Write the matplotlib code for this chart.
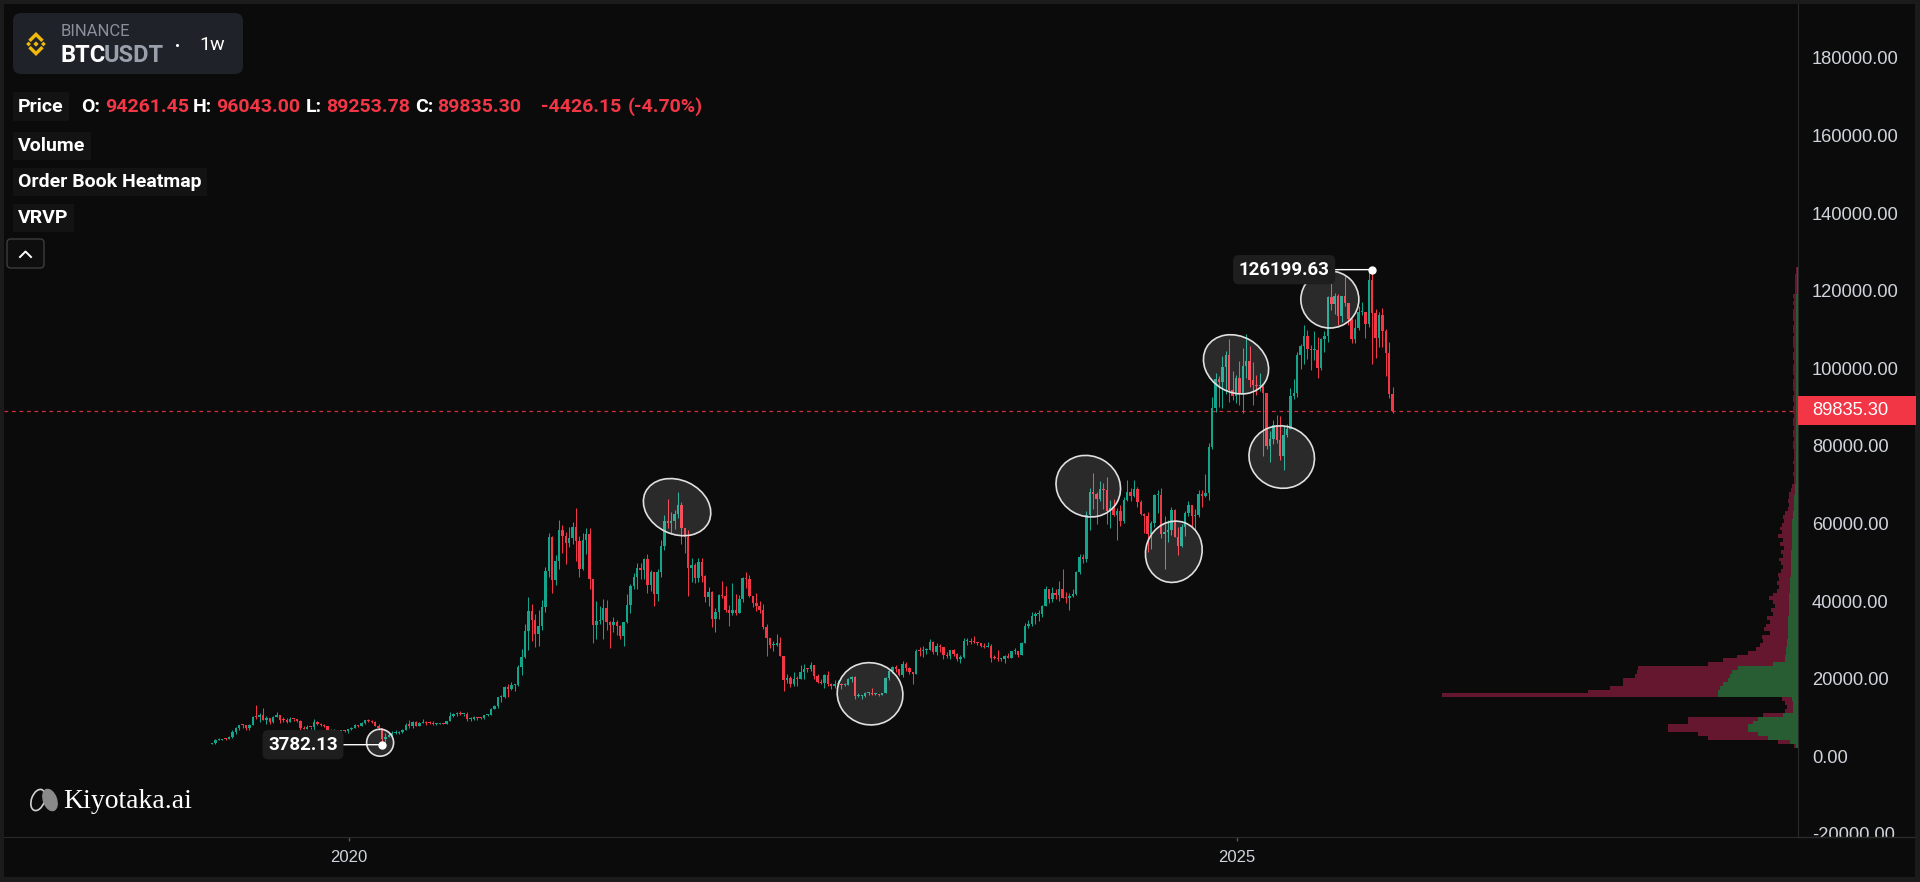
import matplotlib
matplotlib.use("Agg")
import matplotlib.pyplot as plt
import matplotlib.dates as mdates
import matplotlib.transforms as mtransforms
from matplotlib.patches import Rectangle, FancyBboxPatch, Ellipse, Polygon
from matplotlib.lines import Line2D
import numpy as np
import pandas as pd

plt.rcParams['font.family'] = ['Roboto', 'DejaVu Sans']

W, H = 1920, 882

# ---- weekly BTCUSDT candles (Binance), week starting Monday ----
first_week = "2019-03-25"
first_open = 3990.0

closes_2019 = [4100, 5060, 5070, 5290, 5280, 5720, 6960, 8200, 8770, 8740,
               7990, 8980, 10860, 10820, 11460, 10190, 10590, 9530, 10820, 11380,
               10230, 10140, 9600, 10390, 10300, 10000, 8050, 7880, 8280, 8220,
               9550, 9200, 8800, 8500, 6900, 7400, 7500, 7070, 7520, 7390, 7760]
highs_2019 = [4150, 5300, 5470, 5370, 5630, 5900, 7450, 8380, 8950, 9090,
              8800, 9000, 11200, 13970, 12000, 13200, 11100, 10650, 11080, 12320,
              11450, 10950, 10650, 10900, 10480, 10380, 10050, 8550, 8800, 8400,
              10370, 9800, 9500, 9100, 8500, 7900, 7750, 7560, 7540, 7700, 7800]
lows_2019 = [3900, 4090, 4940, 5000, 5000, 5150, 5600, 6600, 7450, 8000,
             7450, 7550, 8900, 10300, 9650, 10100, 9070, 9100, 9250, 10800,
             9470, 9750, 9350, 9600, 9880, 9600, 7700, 7760, 7800, 7900,
             7300, 8970, 8700, 8350, 6790, 6515, 7100, 7000, 6430, 7100, 6870]

closes_2020 = [8180, 8900, 8600, 9350, 10150, 9900, 9670, 8530, 8030, 5360,
               5820, 6250, 6780, 6900, 7120, 7700, 8900, 8730, 9680, 8720,
               9450, 9660, 9340, 9300, 9000, 9060, 9230, 9160, 9900, 11070,
               11650, 11890, 11650, 11680, 10280, 10330, 10920, 10780, 10670, 11380,
               11500, 13030, 13800, 15960, 16050, 18680, 18180, 19150, 19270, 23740,
               26490, 33000]
highs_2020 = [8470, 9190, 8900, 9570, 10200, 10500, 10250, 9970, 9190, 8180,
              6900, 6990, 7200, 7470, 7300, 7800, 9480, 10070, 9950, 9900,
              9600, 10380, 9950, 9800, 9780, 9300, 9450, 9350, 10000, 12120,
              11900, 12100, 12500, 11800, 12090, 10800, 11100, 10980, 10950, 11500,
              11720, 13350, 14000, 15970, 16480, 18900, 19500, 19920, 19420, 24300,
              28400, 34800]
lows_2020 = [7700, 8100, 8260, 8560, 9100, 9600, 9300, 8500, 7600, 3782.13,
             4440, 5670, 5860, 6600, 6460, 6800, 7650, 8100, 8200, 8700,
             8630, 9270, 8900, 9200, 8820, 8900, 9050, 9050, 9150, 9900,
             11000, 11200, 11330, 11100, 9900, 9880, 10220, 10130, 10370, 10530,
             11200, 11400, 12950, 13300, 14800, 15800, 16200, 18000, 17600, 19000,
             21800, 26000]

closes_2021 = [38150, 36000, 32260, 34300, 39260, 48580, 57400, 46190, 51200, 59030,
               57520, 55780, 57090, 60000, 56200, 49000, 56600, 58200, 46400, 34700,
               35650, 35800, 39000, 35500, 34700, 35300, 34250, 31800, 35400, 39850,
               44600, 47050, 49300, 48900, 51750, 45000, 48300, 42700, 48200, 54950,
               61500, 60900, 61300, 63300, 65500, 59700, 57300, 49400, 50100, 46700,
               50800, 47300]
highs_2021 = [41950, 40100, 37500, 38600, 40950, 49700, 58350, 57500, 52650, 61800,
              60400, 58500, 60000, 61200, 64850, 57500, 58450, 59600, 59600, 46600,
              40900, 39500, 41300, 41000, 35750, 36600, 35900, 34700, 35400, 42600,
              45300, 48150, 50500, 50500, 52000, 52900, 48800, 47300, 49000, 56550,
              62900, 67000, 63700, 64300, 69000, 66300, 59500, 59100, 51900, 50600,
              52000, 52000]
lows_2021 = [28130, 30400, 28850, 29240, 33400, 37900, 47050, 43000, 44950, 49100,
             53300, 50400, 54800, 55500, 51000, 47000, 48800, 53000, 43800, 30000,
             31100, 34800, 31000, 33300, 28800, 32700, 32050, 31000, 29280, 35200,
             37600, 43800, 43950, 46400, 46500, 42800, 43400, 39600, 40700, 47100,
             53900, 59500, 58000, 59400, 62300, 55600, 53300, 42000, 45700, 45500,
             45600, 45700]

closes_2022 = [41800, 43100, 36300, 37900, 42400, 42200, 38400, 37700, 38400, 37800,
               41300, 46800, 46400, 42150, 40400, 39500, 38500, 34000, 31300, 29450,
               29450, 29900, 26600, 20550, 21000, 19300, 20830, 20800, 22600, 23300,
               23170, 24300, 21500, 20000, 19800, 21800, 19400, 18900, 19300, 19400,
               19150, 19200, 20800, 21200, 16300, 16300, 16450, 17100, 17100, 16800,
               16850, 16600]
highs_2022 = [47600, 44500, 43500, 38900, 42700, 45850, 44700, 39800, 45400, 42600,
              42400, 47000, 48200, 47500, 41600, 42900, 40800, 40000, 34900, 31400,
              30600, 32400, 31600, 26700, 21900, 21500, 22500, 21600, 24300, 24700,
              23650, 25200, 24450, 22000, 20600, 21900, 22800, 19700, 20400, 20500,
              19700, 19700, 21000, 21500, 21400, 17200, 16700, 17400, 17400, 18400,
              17000, 16950]
lows_2022 = [40500, 39600, 34000, 32900, 36300, 41700, 38000, 34300, 37200, 37200,
             37600, 40500, 44200, 41900, 39200, 38200, 37600, 33700, 26700, 28600,
             28000, 29300, 26600, 17600, 19650, 18600, 19000, 18900, 20700, 20700,
             22400, 22700, 20750, 19800, 19500, 18500, 19000, 18100, 18500, 19000,
             18200, 18800, 19200, 20000, 15600, 16000, 15500, 16000, 16700, 16500,
             16600, 16300]

closes_2023 = [17100, 20900, 22700, 23750, 23300, 21800, 24600, 23500, 22400, 22100,
               28000, 27900, 28200, 28300, 30300, 27600, 29200, 28900, 26800, 26750,
               28100, 27100, 25850, 26350, 30500, 30600, 30300, 30200, 29900, 29300,
               29000, 29300, 26100, 26000, 25800, 25850, 26550, 26250, 27950, 27950,
               26850, 29900, 34500, 35000, 37050, 37400, 37450, 39450, 43800, 41350,
               43000, 42250]
highs_2023 = [17200, 21300, 23000, 23950, 24250, 23400, 25250, 25100, 23900, 22600,
              28400, 28900, 29200, 28800, 31000, 30500, 30000, 29800, 28500, 27600,
              28200, 28400, 27400, 26800, 31400, 31300, 31400, 31800, 30300, 30100,
              30000, 30200, 29700, 26800, 28100, 26100, 26800, 27500, 28000, 28600,
              28000, 30300, 35200, 35900, 37900, 37900, 38400, 39700, 44700, 44000,
              44300, 43800]
lows_2023 = [16500, 17000, 20400, 22300, 22500, 21500, 21350, 22700, 21900, 19550,
             21900, 26600, 26500, 27200, 28100, 27100, 26900, 27700, 25800, 26000,
             25900, 26600, 25350, 24800, 26200, 29500, 29700, 29900, 29500, 28900,
             28600, 28900, 25200, 25800, 25400, 25400, 24900, 26000, 26000, 27200,
             26500, 26800, 29900, 33900, 34500, 34800, 35600, 36700, 39400, 40200,
             40500, 41300]

closes_2024 = [43900, 41700, 41550, 42000, 42600, 48300, 52100, 51700, 63100, 68950,
               68300, 67200, 69600, 69400, 63900, 64900, 63100, 64000, 61500, 66900,
               69000, 67800, 69650, 66200, 63200, 62700, 58000, 60800, 68200, 68200,
               58200, 58700, 59000, 64200, 57300, 54900, 60000, 63600, 65600, 62800,
               62900, 68300, 67900, 68700, 80400, 90600, 97900, 97200, 101100, 104300,
               95200, 93600, 98400]
highs_2024 = [45900, 49000, 43200, 42800, 43880, 48600, 52800, 52900, 64000, 69900,
              73800, 68900, 71700, 71300, 72800, 66900, 67200, 64700, 65500, 67700,
              71950, 70000, 71950, 70200, 66900, 63400, 63800, 61400, 68400, 69400,
              70000, 62700, 61800, 65000, 64500, 59800, 60600, 64100, 66500, 65500,
              64500, 69400, 69500, 73600, 81500, 93400, 99600, 98700, 104000, 105200,
              108350, 99960, 99000]
lows_2024 = [40750, 41500, 40300, 38550, 41900, 42250, 47700, 50600, 50900, 59000,
             64500, 60700, 66700, 64500, 60700, 59600, 62800, 56550, 60200, 60800,
             66600, 66700, 67600, 65100, 63000, 58400, 53500, 54300, 59900, 63400,
             57100, 49000, 56100, 57900, 57200, 52550, 54600, 57500, 62700, 59800,
             58900, 62400, 65000, 67500, 66800, 80000, 89400, 90800, 90500, 94150,
             92100, 92500, 91800]

closes_2025 = [94500, 101300, 102600, 97700, 96400, 96100, 96300, 94300, 80700, 82600,
               86100, 82400, 78300, 83700, 85200, 93700, 94300, 104100, 106500, 109000,
               105700, 105600, 105600, 100900, 108400, 109200, 119100, 117300, 119400, 114200,
               119300, 117500, 113500, 108200, 111100, 115300, 115300, 112200, 123500, 115100,
               108600, 114500, 110500, 104700, 94261.45, 89835.30]
highs_2025 = [102700, 106000, 109600, 106400, 102500, 99000, 99500, 96500, 94400, 84700,
              87500, 88700, 88500, 86000, 86400, 95800, 97900, 104900, 107100, 111980,
              110700, 106800, 110500, 108900, 108500, 110500, 119500, 123200, 120200, 119800,
              119400, 124500, 117600, 113600, 113400, 116800, 117900, 115400, 125700, 126199.63,
              116000, 115400, 116400, 111000, 107500, 96043.00]
lows_2025 = [91200, 89250, 98200, 96000, 91200, 94000, 94800, 78250, 80000, 76600,
             81200, 81600, 77100, 74500, 83000, 85100, 92900, 93400, 100700, 102000,
             103100, 100400, 103000, 98200, 100400, 105100, 107500, 115700, 114700, 112000,
             112700, 116800, 111900, 107300, 107300, 110600, 114400, 108600, 111500, 102000,
             103500, 106300, 106300, 98900, 93000, 89253.78]

# ---- visible range volume profile, 1000 USDT price bins from 0 ----
vp_bin = 1000
vp_buy = [0, 0, 0, 2, 8, 30, 40, 50, 50, 45,
          40, 15, 5, 5, 5, 6, 80, 80, 78, 75,
          70, 68, 66, 60, 25, 13, 13, 12, 12, 11,
          11, 10, 10, 10, 10, 10, 10, 9, 9, 9,
          9, 9, 9, 8, 8, 8, 8, 7, 7, 7,
          7, 7, 7, 7, 6, 6, 6, 6, 6, 6,
          6, 6, 5, 5, 4, 4, 4, 4, 3, 3,
          3, 2, 2, 2, 2, 2, 2, 2, 2, 2,
          2, 2, 2, 2, 2, 2, 2, 2, 2, 2,
          2, 2, 2, 2, 2, 2, 2, 2, 2, 2,
          2, 2, 2, 2, 2, 2, 2, 2, 2, 2,
          2, 2, 2, 2, 2, 2, 2, 2, 2, 2,
          1, 1, 1, 1, 1, 1, 1]
vp_sell = [0, 0, 0, 2, 12, 60, 60, 80, 80, 65,
           70, 20, 8, 6, 8, 10, 276, 130, 110, 100,
           105, 95, 95, 100, 65, 62, 48, 38, 30, 27,
           24, 26, 18, 24, 22, 18, 21, 16, 18, 14,
           16, 20, 16, 13, 11, 13, 11, 13, 10, 8,
           10, 12, 8, 10, 8, 12, 9, 14, 10, 12,
           10, 8, 10, 8, 6, 5, 6, 5, 6, 4,
           3, 2, 2, 3, 2, 2, 3, 2, 2, 2,
           3, 3, 2, 3, 3, 2, 3, 3, 2, 3,
           3, 2, 3, 3, 2, 3, 3, 3, 2, 3,
           3, 3, 2, 3, 3, 2, 3, 3, 3, 2,
           3, 3, 2, 3, 3, 3, 2, 3, 2, 3,
           2, 2, 2, 2, 2, 1, 1]

y_ticks = list(range(-20000, 180001, 20000))

# ---- assemble ----
closes = np.array(closes_2019 + closes_2020 + closes_2021 + closes_2022
                  + closes_2023 + closes_2024 + closes_2025, dtype=float)
highs = np.array(highs_2019 + highs_2020 + highs_2021 + highs_2022
                 + highs_2023 + highs_2024 + highs_2025, dtype=float)
lows = np.array(lows_2019 + lows_2020 + lows_2021 + lows_2022
                + lows_2023 + lows_2024 + lows_2025, dtype=float)
opens = np.concatenate([[first_open], closes[:-1]])
highs = np.maximum(highs, np.maximum(opens, closes))
lows = np.minimum(lows, np.minimum(opens, closes))
dates = pd.date_range(first_week, periods=len(closes), freq="7D")
xd = mdates.date2num(dates)

BG = '#0b0b0b'
FRAME = '#1b1b1b'
LINE = '#2a2a2a'
UP = '#14a38b'
DOWN = '#f23645'
TXT = '#d1d4dc'

fig = plt.figure(figsize=(W / 100, H / 100), dpi=100)
fig.patch.set_facecolor(FRAME)
PIX = mtransforms.Affine2D().scale(1, -1).translate(0, H)


def fx(x):
    return x / W


def fy(y):
    return 1 - y / H


fig.add_artist(Rectangle((4, 4), 1911, 873, transform=PIX, facecolor=BG,
                         edgecolor='none', zorder=-5))

ax = fig.add_axes([fx(4), fy(837), (1798 - 4) / W, (837 - 4) / H])
ax.set_facecolor(BG)

ref = mdates.date2num(pd.Timestamp("2020-01-01"))
ax.set_xlim(ref - 709.8, ref + 2981.2)
ax.set_ylim(-19542, 194652)

# candles
up = closes >= opens
colors = np.where(up, UP, DOWN)
body_low = np.minimum(opens, closes)
body_h = np.maximum(np.abs(closes - opens), 260)
ax.vlines(xd, lows, highs, colors=colors, linewidth=0.75, zorder=2)
ax.bar(xd, body_h, bottom=body_low, width=5.0, color=colors, linewidth=0, zorder=3)

# last price line
last = closes[-1]
ax.axhline(last, color=DOWN, lw=0.9, ls=(0, (3, 3)), alpha=0.85, zorder=1)

# volume profile (right side)
vp_w = 420
ax_vp = ax.inset_axes([1 - vp_w / 1794, 0, vp_w / 1794, 1], sharey=ax)
ax_vp.set_xlim(vp_w, 0)
ax_vp.patch.set_alpha(0)
ax_vp.axis('off')
vp_y = np.arange(len(vp_buy)) * vp_bin + vp_bin / 2
ax_vp.barh(vp_y, vp_buy, height=vp_bin, color='#285c32', linewidth=0)
ax_vp.barh(vp_y, vp_sell, left=vp_buy, height=vp_bin, color='#64172f', linewidth=0)

# axes styling
for s in ['top', 'left']:
    ax.spines[s].set_visible(False)
ax.spines['right'].set_color(LINE)
ax.spines['bottom'].set_color(LINE)
ax.xaxis.set_major_locator(mdates.YearLocator(5))
ax.xaxis.set_major_formatter(mdates.DateFormatter('%Y'))
ax.tick_params(axis='x', colors='#555555', labelcolor=TXT, labelsize=12,
               length=3, width=1, pad=6)
for lbl in ax.get_xticklabels():
    lbl.set_fontfamily(['Liberation Sans', 'DejaVu Sans'])
ax.set_yticks(y_ticks)
ax.yaxis.tick_right()
ax.tick_params(axis='y', length=0, labelright=False, labelleft=False)

clip = mtransforms.Bbox([[1798, H - 837], [1915, H - 4]])
for v in y_ticks:
    t = ax.annotate(f"{v:.2f}", xy=(1, v), xycoords=('axes fraction', 'data'),
                    xytext=(14, 1), textcoords='offset pixels', ha='left', va='center',
                    color=TXT, fontsize=13.2, family=['Liberation Sans', 'DejaVu Sans'],
                    annotation_clip=False)
    t.set_clip_box(clip)
    t.set_clip_on(True)

fig.add_artist(Line2D([1798, 1915], [837, 837], transform=PIX, color=LINE, lw=1))

# last price badge
axh_px = 833
px_per_unit = axh_px / (194652 + 19542)
badge_h = 29 / px_per_unit
blend = mtransforms.blended_transform_factory(ax.transAxes, ax.transData)
ax.add_patch(Rectangle((1.0, last - badge_h / 2), 118 / 1794, badge_h, transform=blend,
                       facecolor='#f23645', edgecolor='none', clip_on=False, zorder=6))
ax.text(1 + 14 / 1794, last, f"{last:.2f}", transform=blend, ha='left', va='center',
        color='white', fontsize=13.2, family=['Liberation Sans', 'DejaVu Sans'],
        clip_on=False, zorder=7)

# highlight ellipses (center date, center price, width px, height px, angle)
highlights = [("2020-03-05", 4300, 27, 27, 0),
              ("2021-11-06", 65000, 70, 54, -25),
              ("2022-12-08", 16900, 66, 62, -15),
              ("2024-03-01", 70400, 66, 60, -30),
              ("2024-08-24", 53500, 56, 62, -20),
              ("2024-12-30", 101800, 68, 56, -30),
              ("2025-04-03", 77900, 66, 62, -20),
              ("2025-07-11", 118500, 58, 57, 0)]
for d, p, ew, eh, ang in highlights:
    tr = mtransforms.Affine2D() + mtransforms.ScaledTranslation(
        mdates.date2num(pd.Timestamp(d)), p, ax.transData)
    ax.add_patch(Ellipse((0, 0), ew, eh, angle=ang, transform=tr,
                         facecolor=(1, 1, 1, 0.13), edgecolor='#e0e0e0', lw=1.2, zorder=4))

# high / low markers
hi_i = int(np.argmax(highs))
lo_i = int(np.argmin(lows))
for i, off in [(hi_i, -88), (lo_i, -79)]:
    val = highs[i] if i == hi_i else lows[i]
    ax.plot([xd[i]], [val], 'o', color='white', ms=5, zorder=6)
    ax.annotate(f"{val:.2f}", xy=(xd[i], val), xytext=(off, 0), textcoords='offset pixels',
                ha='center', va='center', color='white', fontsize=13.5, fontweight='bold',
                bbox=dict(boxstyle='round,pad=0.3,rounding_size=0.3', fc='#1e1e1e', ec='none'),
                arrowprops=dict(arrowstyle='-', color='white', lw=1, shrinkA=0, shrinkB=0),
                zorder=6)

# ---- header ----
fig.add_artist(FancyBboxPatch((13, 13), 230, 61, boxstyle='round,pad=0,rounding_size=8',
                              transform=PIX, facecolor='#202229', edgecolor='none'))
lx, ly, s = 36, 44, 12
logo_parts = [
    [(0, -0.22), (0.22, 0), (0, 0.22), (-0.22, 0)],
    [(-0.62, -0.2), (-0.42, 0), (-0.62, 0.2), (-0.82, 0)],
    [(0.62, -0.2), (0.82, 0), (0.62, 0.2), (0.42, 0)],
    [(-0.64, -0.36), (0, -1), (0.64, -0.36), (0.44, -0.16), (0, -0.6), (-0.44, -0.16)],
    [(-0.64, 0.36), (0, 1), (0.64, 0.36), (0.44, 0.16), (0, 0.6), (-0.44, 0.16)],
]
for part in logo_parts:
    fig.add_artist(Polygon([(lx + a * s, ly + b * s) for a, b in part], closed=True,
                           transform=PIX, facecolor='#f0b90b', edgecolor='none'))
fig.text(fx(61), fy(31), "BINANCE", color='#8c8f99', fontsize=12, va='center')
fig.text(fx(61), fy(56), "BTC", color='white', fontsize=17, fontweight='bold', va='center')
fig.text(fx(104), fy(56), "USDT", color='#9aa0ab', fontsize=17, fontweight='bold', va='center')
fig.text(fx(178), fy(47), "•", color='white', fontsize=11, va='center', ha='center')
fig.text(fx(199), fy(45), "1w", color='white', fontsize=14, va='center')

# legend rows
box = dict(boxstyle='square,pad=0.28', fc='#131313', ec='none')
for label, yy in [("Price", 106.5), ("Volume", 146), ("Order Book Heatmap", 182), ("VRVP", 218)]:
    fig.text(fx(18), fy(yy), label, color='white', fontsize=14, fontweight='bold',
             va='center', bbox=box)

ohlc_tokens = [("O:", 81, 'white'), ("94261.45", 105, DOWN), ("H:", 193, 'white'),
               ("96043.00", 216, DOWN), ("L:", 306, 'white'), ("89253.78", 326, DOWN),
               ("C:", 415, 'white'), ("89835.30", 437, DOWN), ("-4426.15", 541, DOWN),
               ("(-4.70%)", 628, DOWN)]
for tok, x0, col in ohlc_tokens:
    fig.text(fx(x0), fy(106.5), tok, color=col, fontsize=14, fontweight='bold', va='center')

fig.add_artist(FancyBboxPatch((7, 239), 37, 29, boxstyle='round,pad=0,rounding_size=4',
                              transform=PIX, facecolor='#0e0e0e', edgecolor='#3d3d3d', lw=1))
fig.add_artist(Line2D([20, 25.5, 31], [257, 251.5, 257], transform=PIX, color='white', lw=1.4))

# watermark
fig.add_artist(Ellipse((38, 800), 13, 22, angle=20, transform=PIX, facecolor='none',
                       edgecolor='#d0d0d0', lw=1.2))
fig.add_artist(Ellipse((50, 800), 13, 22, angle=-20, transform=PIX, facecolor='#8a8a8a',
                       edgecolor='#8a8a8a', lw=1))
fig.text(fx(63), fy(801), "Kiyotaka.ai", color='white', fontsize=20,
         family=['Liberation Serif', 'DejaVu Serif'], va='center')

fig.savefig("out.png", dpi=100, facecolor=fig.get_facecolor())
